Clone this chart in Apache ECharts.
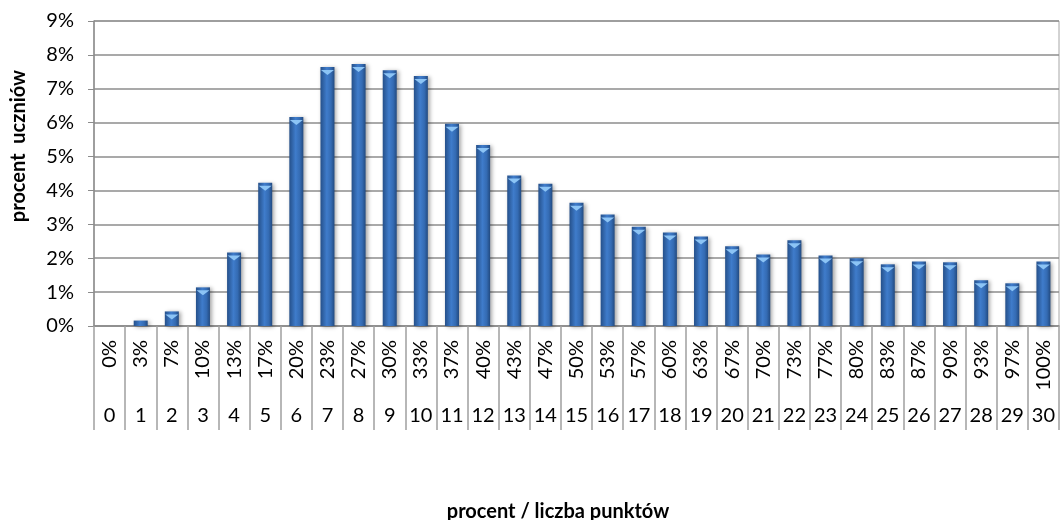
<!DOCTYPE html>
<html>
<head>
<meta charset="utf-8">
<script src="https://cdn.jsdelivr.net/npm/echarts@6/dist/echarts.min.js"></script>
<style>
  html, body { margin: 0; padding: 0; background: #fff; }
  #main { width: 1061px; height: 520px; }
</style>
</head>
<body>
<div id="main"></div>
<script>
// liczba punktów (0-30) i odpowiadający procent
const points = [
  "0", "1", "2", "3", "4", "5", "6", "7", "8", "9", "10",
  "11", "12", "13", "14", "15", "16", "17", "18", "19", "20",
  "21", "22", "23", "24", "25", "26", "27", "28", "29", "30"
];
const percentLabels = [
  "0%", "3%", "7%", "10%", "13%", "17%", "20%", "23%", "27%", "30%", "33%",
  "37%", "40%", "43%", "47%", "50%", "53%", "57%", "60%", "63%", "67%",
  "70%", "73%", "77%", "80%", "83%", "87%", "90%", "93%", "97%", "100%"
];
// procent uczniów
const students = [
  0, 0.16, 0.43, 1.14, 2.17, 4.23, 6.17, 7.64, 7.73, 7.55, 7.38,
  5.97, 5.34, 4.44, 4.2, 3.64, 3.29, 2.93, 2.76, 2.64, 2.35,
  2.11, 2.53, 2.08, 2.0, 1.82, 1.9, 1.88, 1.35, 1.26, 1.9
];
const yTicks = [0, 1, 2, 3, 4, 5, 6, 7, 8, 9];

const FONT = "Lato";
const chart = echarts.init(document.getElementById("main"));

const barColor = new echarts.graphic.LinearGradient(0, 0, 1, 0, [
  { offset: 0, color: "#25508a" },
  { offset: 0.45, color: "#3f7ccb" },
  { offset: 0.75, color: "#346bb3" },
  { offset: 1, color: "#224a80" }
]);

const option = {
  animation: false,
  textStyle: { fontFamily: FONT },
  grid: {
    left: 94,
    right: 2,
    top: 21,
    bottom: 194,
    show: true,
    borderColor: "#a6a6a6",
    borderWidth: 1
  },
  xAxis: [
    {
      type: "category",
      data: percentLabels,
      position: "bottom",
      axisLine: { show: true, lineStyle: { color: "#8c8c8c", width: 1.5 } },
      axisTick: {
        show: true,
        interval: 0,
        alignWithLabel: false,
        length: 104,
        lineStyle: { color: "#a0a0a0", width: 1.5 }
      },
      axisLabel: {
        interval: 0,
        rotate: 90,
        margin: 14,
        color: "#000",
        fontSize: 20,
        fontFamily: FONT
      }
    },
    {
      type: "category",
      data: points,
      position: "bottom",
      axisLine: { show: false },
      axisTick: { show: false },
      axisLabel: {
        interval: 0,
        margin: 80,
        color: "#000",
        fontSize: 20,
        fontFamily: FONT
      }
    }
  ],
  yAxis: {
    type: "value",
    min: 0,
    max: 9,
    interval: 1,
    axisLine: { show: true, lineStyle: { color: "#8c8c8c", width: 1.5 } },
    axisTick: { show: true, length: 6, lineStyle: { color: "#8c8c8c" } },
    axisLabel: {
      margin: 20,
      color: "#000",
      fontSize: 20,
      fontFamily: FONT,
      formatter: function (v) {
        return yTicks.indexOf(v) >= 0 ? v + "%" : "";
      }
    },
    splitLine: { lineStyle: { color: "#8c8c8c", width: 1.5 } }
  },
  graphic: [
    {
      type: "text",
      x: 19,
      y: 146,
      rotation: Math.PI / 2,
      style: {
        text: "procent  uczniów",
        font: "bold 20px " + FONT,
        fill: "#000",
        align: "center",
        verticalAlign: "middle"
      }
    },
    {
      type: "text",
      x: 558,
      y: 512,
      style: {
        text: "procent / liczba punktów",
        font: "bold 20px " + FONT,
        fill: "#000",
        align: "center",
        verticalAlign: "middle"
      }
    }
  ],
  series: [
    {
      name: "procent uczniów",
      type: "bar",
      xAxisIndex: 0,
      barWidth: "45%",
      data: students,
      itemStyle: {
        color: barColor,
        shadowBlur: 4,
        shadowColor: "rgba(0,0,0,0.35)",
        shadowOffsetX: 2,
        shadowOffsetY: 1
      },
      z: 2
    },
    {
      // jasny "ścięty" wierzchołek słupka
      type: "pictorialBar",
      xAxisIndex: 0,
      symbol: "triangle",
      symbolRotate: 180,
      symbolSize: [13, 5],
      symbolPosition: "end",
      symbolOffset: [0, 3],
      symbolClip: true,
      data: students.map(v => (v > 0.3 ? v : "-")),
      itemStyle: { color: "#8cc4f5" },
      silent: true,
      z: 3
    }
  ]
};

chart.setOption(option);
</script>
</body>
</html>
